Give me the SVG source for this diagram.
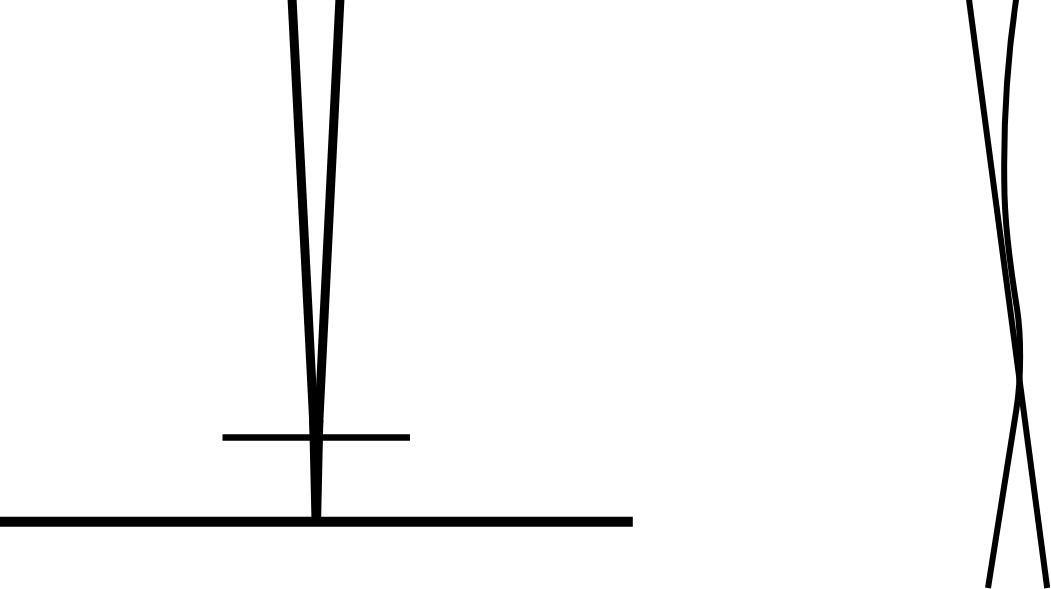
<svg xmlns="http://www.w3.org/2000/svg" width="1051" height="589" viewBox="0 0 1051 589">
  <style>
    .s { fill: none; stroke: #000; stroke-linecap: butt; }
  </style>
  <rect x="0" y="0" width="1051" height="589" fill="#fff"/>
  <g id="left-figure">
    <line class="s" x1="292" y1="-2" x2="316.3" y2="472" stroke-width="9"/>
    <line class="s" x1="340" y1="-2" x2="316.3" y2="472" stroke-width="9"/>
    <path d="M309.2,420 L323.3,420 L321.1,521 L311.5,521 Z" fill="#000"/>
    <line class="s" x1="222.5" y1="437.5" x2="410" y2="437.5" stroke-width="6.5"/>
    <line class="s" x1="0" y1="521.7" x2="632.8" y2="521.7" stroke-width="10"/>
  </g>
  <g id="right-figure">
    <line class="s" x1="968.8" y1="-2" x2="1047.2" y2="588" stroke-width="6"/>
    <path class="s" stroke-width="6" d="M1016.3,-2 C1007,60 1003,130 1004.5,195 C1006,245 1014,288 1017.2,310 C1021,335 1021.5,378 1016.3,410 L988,588"/>
  </g>
</svg>
